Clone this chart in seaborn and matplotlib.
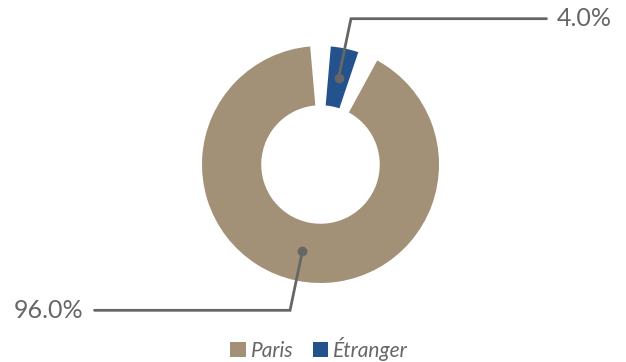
import numpy as np
import matplotlib
matplotlib.use("Agg")
import matplotlib.pyplot as plt
import seaborn as sns

sns.set_theme(style="white")
plt.rcParams['font.family'] = ['Lato', 'DejaVu Sans']

categories = ["Paris", "Étranger"]
values = [96.0, 4.0]
labels = ["96.0%", "4.0%"]
colors = ["#A39177", "#24528C"]

W, H = 626, 362
cx, cy, R = 320.5, 164.5, 118.5  # pixel center and outer radius
fig = plt.figure(figsize=(W / 100, H / 100), dpi=100)
ax = fig.add_axes([0, 0, 1, 1])
ax.axis("off")

pad = 10.0  # degrees of gap between slices
total = sum(values)
avail = 360 - 2 * pad
deg = [v / total * avail for v in values]
# order around the circle (clockwise from the blue slice)
seq = [deg[1], pad, deg[0], pad]
seq_colors = [colors[1], "none", colors[0], "none"]
wedges, _ = ax.pie(seq, colors=seq_colors, startangle=85, counterclock=False,
                   radius=1.0, wedgeprops=dict(width=0.5, linewidth=0),
                   normalize=True)
ax.set_xlim(-cx / R, (W - cx) / R)
ax.set_ylim(-(H - cy) / R, cy / R)
ax.set_aspect("auto")

gray = "#666666"
idx = {1: wedges[0], 0: wedges[2]}
for i in (0, 1):
    w = idx[i]
    mid = np.deg2rad((w.theta1 + w.theta2) / 2)
    r0, r1 = 0.75, 1.257
    x0, y0 = r0 * np.cos(mid), r0 * np.sin(mid)
    x1, y1 = r1 * np.cos(mid), r1 * np.sin(mid)
    side = 1 if x1 > 0 else -1
    x2 = x1 + side * 1.65
    ax.plot([x0, x1, x2], [y0, y1, y1], color=gray, lw=2, solid_joinstyle="miter")
    ax.plot([x0], [y0], "o", color=gray, ms=6)
    ax.text(x2 + side * 0.09, y1, labels[i], ha="left" if side > 0 else "right",
            va="center", fontsize=18, color=gray)

leg = fig.legend(handles=[wedges[2], wedges[0]], labels=categories,
                 loc="center", bbox_to_anchor=(0.51, 1 - 349 / H), ncol=2,
                 frameon=False, handlelength=0.75, handleheight=0.75,
                 handletextpad=0.25, columnspacing=0.9,
                 prop=dict(size=15, style="italic"))
for t in leg.get_texts():
    t.set_color(gray)

fig.savefig("out.png", dpi=100)
